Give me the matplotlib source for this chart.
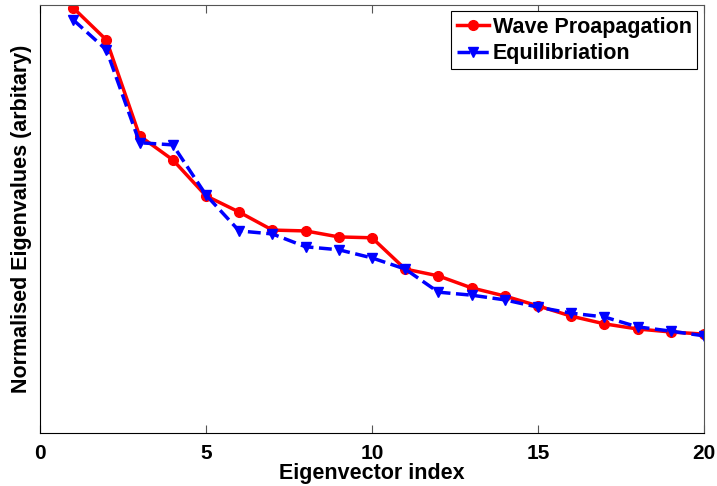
import numpy as np
import matplotlib.pyplot as plt

plt.rcParams['font.family'] = ['Liberation Sans', 'DejaVu Sans']
plt.rcParams['font.weight'] = 'bold'

idx = np.arange(1, 21)
wave = [0.993, 0.918, 0.694, 0.638, 0.554, 0.516, 0.474, 0.472, 0.458, 0.456,
        0.383, 0.367, 0.339, 0.320, 0.297, 0.273, 0.255, 0.243, 0.236, 0.231]
equil = [0.965, 0.895, 0.678, 0.673, 0.556, 0.472, 0.465, 0.435, 0.428, 0.409,
         0.383, 0.329, 0.322, 0.311, 0.294, 0.280, 0.271, 0.248, 0.238, 0.227]

fig = plt.figure(figsize=(7.17, 4.86), dpi=100)
ax = fig.add_axes([0.0558, 0.109, 0.926, 0.881])

ax.plot(idx, wave, '-o', color='red', lw=2.5, ms=7, label='Wave Proapagation')
ax.plot(idx, equil, '--v', color='blue', lw=2.5, ms=7, label='Equilibriation')

ax.set_xlim(0, 20)
ax.set_ylim(0, 1)
ax.set_xticks([0, 5, 10, 15, 20])
ax.set_yticks([])
ax.tick_params(axis='x', direction='in', top=True, length=6, color='#555555',
               labelsize=15, pad=8)
for s in ['top', 'right']:
    ax.spines[s].set_color('#555555')

ax.set_xlabel('Eigenvector index', fontsize=15.5, fontweight='bold', labelpad=0)
ax.set_ylabel('Normalised Eigenvalues (arbitary)', fontsize=15.5, fontweight='bold', labelpad=6)

leg = ax.legend(loc='upper right', fontsize=15.5, handlelength=1.5, handletextpad=0.2,
                borderpad=0.25, labelspacing=0.25, fancybox=False, framealpha=1,
                borderaxespad=0.3)
leg.get_frame().set_edgecolor('black')
leg.get_frame().set_linewidth(0.8)

fig.savefig('out.png', dpi=100)
